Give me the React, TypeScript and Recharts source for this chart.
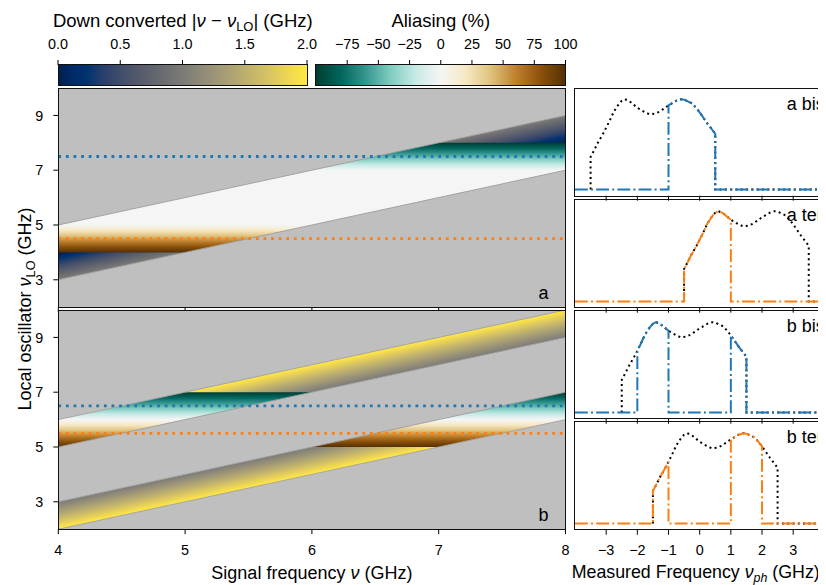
import React from 'react';
import { ComposedChart, LineChart, Line, Area, XAxis, YAxis } from 'recharts';

const FONT = '"Liberation Sans", Arial, sans-serif';
const TICK = { fontSize: 14.4, fill: '#000', fontFamily: FONT };
const TICK_LINE = { stroke: '#000', strokeWidth: 1 };

// ---------------- data ----------------
const SIGNAL_X = [4, 5, 6, 7, 8];
const SIGNAL_DOMAIN: [number, number] = [4, 8];
const LO_TICKS = [3, 5, 7, 9];
const LO_DOMAIN: [number, number] = [2, 10];

const DOWN_TICKS = [0, 0.5, 1, 1.5, 2];
const DOWN_DOMAIN: [number, number] = [0, 2];
const ALIAS_TICKS = [-75, -50, -25, 0, 25, 50, 75, 100];
const ALIAS_DOMAIN: [number, number] = [-100, 100];

// bands of (νLO − ν) in GHz
const BANDS_A = [[-1, 1]];
const BANDS_B = [[1, 2], [-2, -1]];
// aliasing window in νLO and aliasing profile [νLO, %]
const ALIAS_WINDOW_A = [4, 8];
const ALIAS_PROFILE_A = [[4, 100], [5, 0], [7, 0], [8, -100]];
const ALIAS_WINDOW_B = [5, 7];
const ALIAS_PROFILE_B = [[5, 100], [6, 0], [7, -100]];
// local oscillators [bis, ter]
const LO_A = [7.5, 4.5];
const LO_B = [6.5, 5.5];
// kept |ν − νLO| range
const KEEP_A = [0, 1];
const KEEP_B = [1, 2];

// signal spectrum
const SPECTRUM_NU = [4.0, 4.1, 4.25, 4.4, 4.5, 4.6, 4.75, 4.9, 5.0, 5.1, 5.25, 5.5, 5.75, 5.9, 6.1, 6.25, 6.5, 6.75, 6.9, 7.0, 7.25, 7.4, 7.5, 7.75, 8.0];
const SPECTRUM_AMP = [0.32, 0.38, 0.47, 0.55, 0.61, 0.67, 0.77, 0.84, 0.875, 0.89, 0.87, 0.805, 0.76, 0.74, 0.75, 0.775, 0.83, 0.875, 0.89, 0.885, 0.85, 0.8, 0.76, 0.65, 0.55];

const MEAS_TICKS = [-3, -2, -1, 0, 1, 2, 3];
const MEAS_DOMAIN: [number, number] = [-4, 4.5];
const AMP_DOMAIN: [number, number] = [-0.06, 1];

// ---------------- colours ----------------
const CIVIDIS = ['#00204c', '#002a66', '#00346e', '#273f6c', '#3c4a6b', '#4c556b', '#5b5f6d', '#686a70', '#757575', '#838178', '#928c78', '#a19876', '#b0a572', '#c0b16d', '#d1bf66', '#e1cc5c', '#f3db4f', '#ffe945'];
const BRBG = ['#543005', '#8c510a', '#bf812d', '#dfc27d', '#f6e8c3', '#f5f5f5', '#c7eae5', '#80cdc1', '#35978f', '#01665e', '#003c30'];
const BLUE = '#1f77b4';
const ORANGE = '#ff7f0e';
const BG_GRAY = '#bfbfbf';
const EDGE_GRAY = '#a0a0a0';

// ---------------- layout (container px) ----------------
const LEFT_PLOT_X = [50.3, 557.5];
const PANEL_A_Y = [80.3, 299.5];
const PANEL_B_Y = [302.3, 521.5];
const RIGHT_PLOT_X0 = 566.7;
const RIGHT_UNIT = 31.17;
const RIGHT_PANEL_Y = [[80.3, 188.0], [191.5, 299.2], [302.6, 410.3], [413.8, 521.5]];
const CB_Y = [56.5, 77];
const CB1_X = [50.3, 299.3];
const CB2_X = [308, 557.5];

function hexToRgb(h: string) {
  const n = parseInt(h.slice(1), 16);
  return [(n >> 16) & 255, (n >> 8) & 255, n & 255];
}
function cmap(stops: string[], t: number) {
  const c = Math.max(0, Math.min(1, t));
  const f = c * (stops.length - 1);
  const i = Math.min(Math.floor(f), stops.length - 2);
  const r = f - i;
  const a = hexToRgb(stops[i]);
  const b = hexToRgb(stops[i + 1]);
  const m = a.map((v, k) => Math.round(v + (b[k] - v) * r));
  return `rgb(${m[0]},${m[1]},${m[2]})`;
}
const downColor = (d: number) => cmap(CIVIDIS, d / (DOWN_DOMAIN[1] - DOWN_DOMAIN[0]));
const aliasColor = (p: number) => cmap(BRBG, (ALIAS_DOMAIN[1] - p) / (ALIAS_DOMAIN[1] - ALIAS_DOMAIN[0]));
function profileAt(profile: number[][], y: number) {
  if (y <= profile[0][0]) return profile[0][1];
  for (let i = 1; i < profile.length; i++) {
    if (y <= profile[i][0]) {
      const [x0, v0] = profile[i - 1];
      const [x1, v1] = profile[i];
      return v0 + ((v1 - v0) * (y - x0)) / (x1 - x0);
    }
  }
  return profile[profile.length - 1][1];
}

function bandGradient(id: string, a: number, b: number) {
  const Wx = SIGNAL_DOMAIN[1] - SIGNAL_DOMAIN[0];
  const H = Wx + b - a;
  const den = Wx * Wx + H * H;
  const N = 30;
  const stops = [];
  for (let k = 0; k <= N; k++) {
    const d = b - ((b - a) * k) / N;
    stops.push(<stop key={k} offset={(Wx + b - d) / H} stopColor={downColor(Math.abs(d))} />);
  }
  return (
    <linearGradient key={id} id={id} x1={0} y1={0} x2={(Wx * H) / den} y2={(H * H) / den}>
      {stops}
    </linearGradient>
  );
}

function aliasGradient(id: string, win: number[], profile: number[][]) {
  const N = 40;
  const stops = [];
  for (let k = 0; k <= N; k++) {
    const y = win[1] - ((win[1] - win[0]) * k) / N;
    stops.push(<stop key={k} offset={k / N} stopColor={aliasColor(profileAt(profile, y))} />);
  }
  return (
    <linearGradient key={id} id={id} x1={0} y1={0} x2={0} y2={1}>
      {stops}
    </linearGradient>
  );
}

const fmtSigned = (v: number) => (v < 0 ? `\u2212${Math.abs(v)}` : `${v}`);
const blank = () => '';

function Frame({ x0, x1, y0, y1 }: { x0: number; x1: number; y0: number; y1: number }) {
  return (
    <div
      style={{
        position: 'absolute',
        left: x0 - 0.6,
        top: y0 - 0.6,
        width: x1 - x0 + 1.2,
        height: y1 - y0 + 1.2,
        border: '1.2px solid #111',
        boxSizing: 'border-box',
        pointerEvents: 'none',
      }}
    />
  );
}

function Colorbar({ id, xr, domain, ticks, fmt, kind }: any) {
  const [x0, x1] = xr;
  const [y0, y1] = CB_Y;
  const axisH = 30;
  const M = { top: 0, right: 16, bottom: 2, left: 16 };
  const N = 40;
  const stops = [];
  for (let k = 0; k <= N; k++) {
    const v = domain[0] + ((domain[1] - domain[0]) * k) / N;
    stops.push(<stop key={k} offset={k / N} stopColor={kind === 'down' ? downColor(v) : aliasColor(v)} />);
  }
  const data = [
    { x: domain[0], r: [0, 1] },
    { x: domain[1], r: [0, 1] },
  ];
  return (
    <div style={{ position: 'absolute', left: x0 - M.left, top: y0 - axisH }}>
      <ComposedChart width={x1 - x0 + M.left + M.right} height={axisH + (y1 - y0) + M.bottom} data={data} margin={M}>
        <defs>
          <linearGradient id={id} x1={0} y1={0} x2={1} y2={0}>
            {stops}
          </linearGradient>
        </defs>
        <XAxis orientation="top" type="number" dataKey="x" domain={domain} ticks={ticks} interval={0} allowDataOverflow height={axisH} tickSize={5} tickMargin={11} tickFormatter={fmt} axisLine={false} tickLine={TICK_LINE} tick={TICK} />
        <YAxis hide type="number" domain={[0, 1]} allowDataOverflow />
        <Area type="linear" dataKey="r" fill={`url(#${id})`} fillOpacity={1} stroke="none" isAnimationActive={false} dot={false} activeDot={false} />
      </ComposedChart>
    </div>
  );
}

function BandPanel({ gid, yr, bands, aliasWindow, aliasProfile, los, showLabels }: any) {
  const [y0, y1] = yr;
  const rows = SIGNAL_X.map((x) => {
    const r: Record<string, any> = { x, bg: [LO_DOMAIN[0], LO_DOMAIN[1]] };
    bands.forEach(([a, b]: number[], i: number) => {
      r[`band${i}`] = [x + a, x + b];
      r[`edgeLo${i}`] = x + a;
      r[`edgeHi${i}`] = x + b;
      const lo = Math.max(x + a, aliasWindow[0]);
      const hi = Math.min(x + b, aliasWindow[1]);
      r[`alias${i}`] = lo <= hi ? [lo, hi] : null;
    });
    los.forEach((v: number, j: number) => {
      r[`lo${j}`] = v;
    });
    return r;
  });
  const xh = showLabels ? 34 : 10;
  const M = { top: 4, right: 8, bottom: 0, left: 0 };
  return (
    <div style={{ position: 'absolute', left: 0, top: y0 - M.top }}>
      <ComposedChart width={LEFT_PLOT_X[1] + M.right} height={M.top + (y1 - y0) + xh} data={rows} margin={M}>
        <defs>
          {bands.map(([a, b]: number[], i: number) => bandGradient(`${gid}-band${i}`, a, b))}
          {aliasGradient(`${gid}-alias`, aliasWindow, aliasProfile)}
        </defs>
        <XAxis type="number" dataKey="x" domain={SIGNAL_DOMAIN} ticks={SIGNAL_X} interval={0} allowDataOverflow height={xh} tickSize={5} tickMargin={10.3} axisLine={false} tickLine={TICK_LINE} tick={TICK} tickFormatter={showLabels ? (v: number) => `${v}` : blank} />
        <YAxis type="number" domain={LO_DOMAIN} ticks={LO_TICKS} interval={0} allowDataOverflow width={LEFT_PLOT_X[0]} tickSize={5} tickMargin={10} axisLine={false} tickLine={TICK_LINE} tick={TICK} />
        <Area type="linear" dataKey="bg" fill={BG_GRAY} fillOpacity={1} stroke="none" isAnimationActive={false} dot={false} activeDot={false} />
        {bands.map((_: any, i: number) => (
          <Area key={`band${i}`} type="linear" dataKey={`band${i}`} fill={`url(#${gid}-band${i})`} fillOpacity={1} stroke="none" isAnimationActive={false} dot={false} activeDot={false} />
        ))}
        {bands.map((_: any, i: number) => (
          <Area key={`alias${i}`} type="linear" dataKey={`alias${i}`} fill={`url(#${gid}-alias)`} fillOpacity={1} stroke="none" isAnimationActive={false} dot={false} activeDot={false} />
        ))}
        {bands.map((_: any, i: number) => (
          <Line key={`el${i}`} type="linear" dataKey={`edgeLo${i}`} stroke={EDGE_GRAY} strokeWidth={0.9} dot={false} activeDot={false} isAnimationActive={false} />
        ))}
        {bands.map((_: any, i: number) => (
          <Line key={`eh${i}`} type="linear" dataKey={`edgeHi${i}`} stroke={EDGE_GRAY} strokeWidth={0.9} dot={false} activeDot={false} isAnimationActive={false} />
        ))}
        {los.map((_: any, j: number) => (
          <Line key={`lo${j}`} type="linear" dataKey={`lo${j}`} stroke={j === 0 ? BLUE : ORANGE} strokeWidth={2.8} strokeDasharray="2.8 4.8" dot={false} activeDot={false} isAnimationActive={false} />
        ))}
      </ComposedChart>
    </div>
  );
}

function SpectrumPanel({ yr, lo, keep, color, showLabels }: any) {
  const [y0, y1] = yr;
  const xs = SPECTRUM_NU.map((nu) => nu - lo);
  const black = [
    { x: xs[0], y: 0 },
    ...xs.map((x, i) => ({ x, y: SPECTRUM_AMP[i] })),
    { x: xs[xs.length - 1], y: 0 },
    { x: MEAS_DOMAIN[1], y: 0 },
  ];
  const colored: { x: number; y: number }[] = [{ x: MEAS_DOMAIN[0], y: 0 }];
  let run: { x: number; y: number }[] = [];
  const flush = () => {
    if (run.length) {
      colored.push({ x: run[0].x, y: 0 }, ...run, { x: run[run.length - 1].x, y: 0 });
      run = [];
    }
  };
  xs.forEach((x, i) => {
    const ad = Math.abs(x);
    if (ad >= keep[0] - 1e-9 && ad <= keep[1] + 1e-9) run.push({ x, y: SPECTRUM_AMP[i] });
    else flush();
  });
  flush();
  colored.push({ x: MEAS_DOMAIN[1], y: 0 });

  const M = { top: 4, right: 0, bottom: 0, left: 4 };
  const xh = showLabels ? 34 : 10;
  const plotW = (MEAS_DOMAIN[1] - MEAS_DOMAIN[0]) * RIGHT_UNIT;
  return (
    <div style={{ position: 'absolute', left: RIGHT_PLOT_X0 - M.left, top: y0 - M.top }}>
      <LineChart width={M.left + plotW} height={M.top + (y1 - y0) + xh} margin={M}>
        <XAxis type="number" dataKey="x" domain={MEAS_DOMAIN} ticks={MEAS_TICKS} interval={0} allowDataOverflow height={xh} tickSize={5} tickMargin={10.3} axisLine={false} tickLine={TICK_LINE} tick={TICK} tickFormatter={showLabels ? fmtSigned : blank} />
        <YAxis hide type="number" domain={AMP_DOMAIN} allowDataOverflow />
        <Line data={black} dataKey="y" type="linear" stroke="#000" strokeWidth={2} strokeDasharray="2 3.3" dot={false} activeDot={false} isAnimationActive={false} />
        <Line data={colored} dataKey="y" type="linear" stroke={color} strokeWidth={2} strokeDasharray="12.8 3.2 2 3.2" dot={false} activeDot={false} isAnimationActive={false} />
      </LineChart>
    </div>
  );
}

const SUB = { fontSize: '0.7em', position: 'relative' as const, top: '0.3em' };
const TXT = 18;
const baseTop = (baseline: number, size = TXT) => baseline - 0.8465 * size;

export default function App() {
  const rightLabels = [
    ['a bis', 0],
    ['a ter', 1],
    ['b bis', 2],
    ['b ter', 3],
  ];
  return (
    <div style={{ position: 'relative', width: 818, height: 577, overflow: 'hidden', fontFamily: FONT, color: '#000', background: '#fff' }}>
      <style>{'html,body{overflow:hidden;}'}</style>

      {/* colorbar titles */}
      <div style={{ position: 'absolute', left: (CB1_X[0] + CB1_X[1]) / 2, top: baseTop(19.5, 18.5), transform: 'translateX(-50%)', fontSize: 18.5, lineHeight: 1, whiteSpace: 'nowrap' }}>
        Down converted |<i>ν</i> − <i>ν</i>
        <span style={SUB}>LO</span>| (GHz)
      </div>
      <div style={{ position: 'absolute', left: (CB2_X[0] + CB2_X[1]) / 2, top: baseTop(19.5, 18.5), transform: 'translateX(-50%)', fontSize: 18.5, lineHeight: 1, whiteSpace: 'nowrap' }}>
        Aliasing (%)
      </div>

      <Colorbar id="cb-down" xr={CB1_X} domain={DOWN_DOMAIN} ticks={DOWN_TICKS} fmt={(v: number) => v.toFixed(1)} kind="down" />
      <Colorbar id="cb-alias" xr={CB2_X} domain={ALIAS_DOMAIN} ticks={ALIAS_TICKS} fmt={fmtSigned} kind="alias" />
      <Frame x0={CB1_X[0]} x1={CB1_X[1]} y0={CB_Y[0]} y1={CB_Y[1]} />
      <Frame x0={CB2_X[0]} x1={CB2_X[1]} y0={CB_Y[0]} y1={CB_Y[1]} />

      <BandPanel gid="pa" yr={PANEL_A_Y} bands={BANDS_A} aliasWindow={ALIAS_WINDOW_A} aliasProfile={ALIAS_PROFILE_A} los={LO_A} showLabels={false} />
      <BandPanel gid="pb" yr={PANEL_B_Y} bands={BANDS_B} aliasWindow={ALIAS_WINDOW_B} aliasProfile={ALIAS_PROFILE_B} los={LO_B} showLabels={true} />
      <Frame x0={LEFT_PLOT_X[0]} x1={LEFT_PLOT_X[1]} y0={PANEL_A_Y[0]} y1={PANEL_A_Y[1]} />
      <Frame x0={LEFT_PLOT_X[0]} x1={LEFT_PLOT_X[1]} y0={PANEL_B_Y[0]} y1={PANEL_B_Y[1]} />

      <SpectrumPanel yr={RIGHT_PANEL_Y[0]} lo={LO_A[0]} keep={KEEP_A} color={BLUE} showLabels={false} />
      <SpectrumPanel yr={RIGHT_PANEL_Y[1]} lo={LO_A[1]} keep={KEEP_A} color={ORANGE} showLabels={false} />
      <SpectrumPanel yr={RIGHT_PANEL_Y[2]} lo={LO_B[0]} keep={KEEP_B} color={BLUE} showLabels={false} />
      <SpectrumPanel yr={RIGHT_PANEL_Y[3]} lo={LO_B[1]} keep={KEEP_B} color={ORANGE} showLabels={true} />
      {RIGHT_PANEL_Y.map(([y0, y1], i) => (
        <Frame key={i} x0={RIGHT_PLOT_X0} x1={RIGHT_PLOT_X0 + (MEAS_DOMAIN[1] - MEAS_DOMAIN[0]) * RIGHT_UNIT} y0={y0} y1={y1} />
      ))}

      {/* panel letters */}
      <div style={{ position: 'absolute', left: 530.5, top: baseTop(291), fontSize: TXT, lineHeight: 1 }}>a</div>
      <div style={{ position: 'absolute', left: 530.5, top: baseTop(513.5), fontSize: TXT, lineHeight: 1 }}>b</div>
      {rightLabels.map(([t, i]) => (
        <div key={t as string} style={{ position: 'absolute', left: 778.7, top: baseTop((RIGHT_PANEL_Y[i as number][0] as number) + 21.7), fontSize: TXT, lineHeight: 1, whiteSpace: 'pre' }}>
          {t}
        </div>
      ))}

      {/* axis titles */}
      <div style={{ position: 'absolute', left: 16.5, top: 301, transform: 'translate(-50%, -50%) rotate(-90deg)', fontSize: TXT, lineHeight: 1, whiteSpace: 'nowrap' }}>
        Local oscillator <i>ν</i>
        <span style={SUB}>LO</span> (GHz)
      </div>
      <div style={{ position: 'absolute', left: (LEFT_PLOT_X[0] + LEFT_PLOT_X[1]) / 2, top: baseTop(571), transform: 'translateX(-50%)', fontSize: TXT, lineHeight: 1, whiteSpace: 'nowrap' }}>
        Signal frequency <i>ν</i> (GHz)
      </div>
      <div style={{ position: 'absolute', left: 563.7, top: baseTop(571, 17.8), fontSize: 17.8, lineHeight: 1, whiteSpace: 'nowrap' }}>
        Measured Frequency <i>ν</i>
        <span style={{ ...SUB, fontStyle: 'italic' }}>ph</span> (GHz)
      </div>
    </div>
  );
}
